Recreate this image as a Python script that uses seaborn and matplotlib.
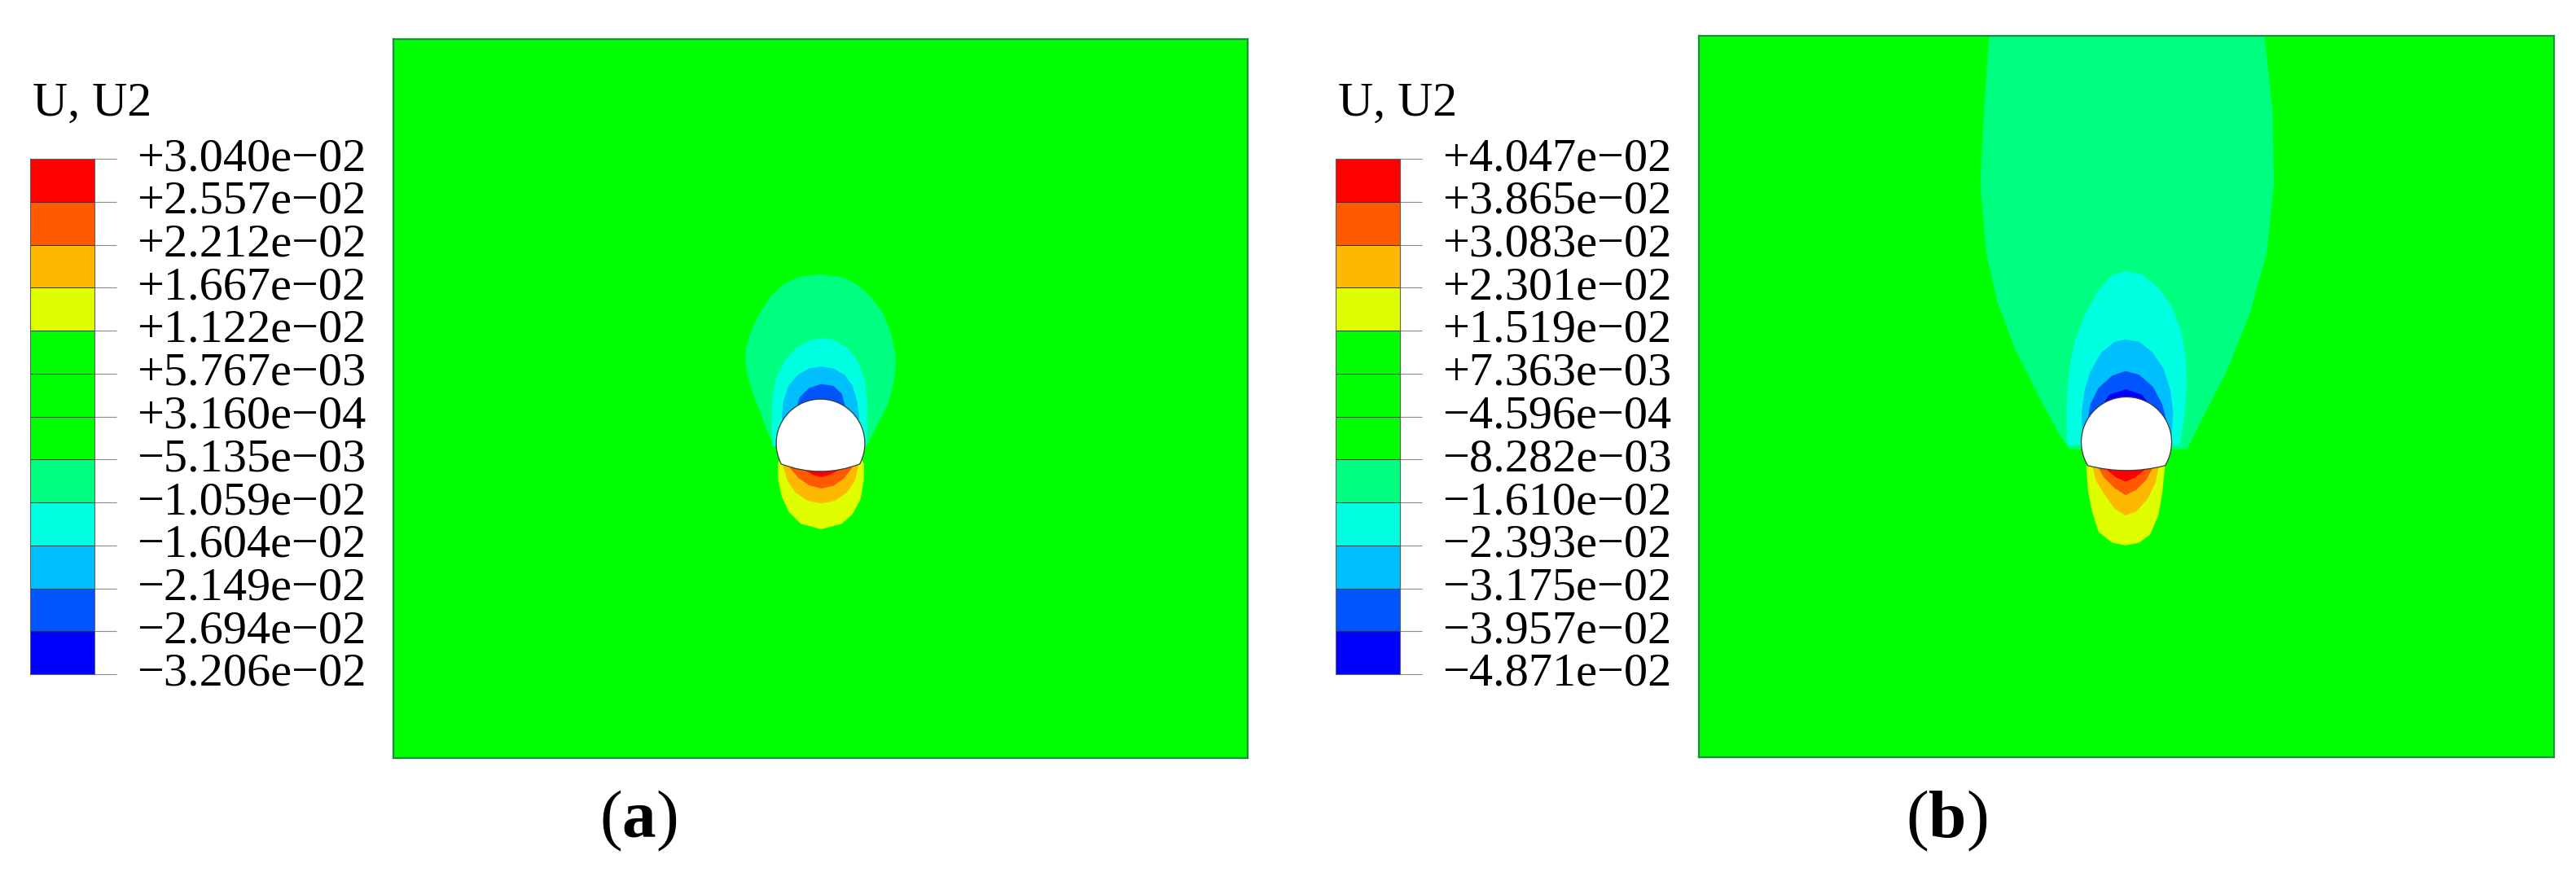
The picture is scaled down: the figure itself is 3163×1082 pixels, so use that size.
import numpy as np
import matplotlib
matplotlib.use("Agg")
import matplotlib.pyplot as plt
import seaborn as sns
from matplotlib.colors import ListedColormap
from matplotlib.path import Path
from matplotlib.patches import PathPatch
from matplotlib.transforms import ScaledTranslation

# ---------------- data ----------------
legend_title = "U, U2"
levels_a = [3.040e-02, 2.557e-02, 2.212e-02, 1.667e-02, 1.122e-02, 5.767e-03, 3.160e-04,
            -5.135e-03, -1.059e-02, -1.604e-02, -2.149e-02, -2.694e-02, -3.206e-02]
levels_b = [4.047e-02, 3.865e-02, 3.083e-02, 2.301e-02, 1.519e-02, 7.363e-03, -4.596e-04,
            -8.282e-03, -1.610e-02, -2.393e-02, -3.175e-02, -3.957e-02, -4.871e-02]
# band colours, highest band first
band_colors = ["#FF0000", "#FF5A00", "#FFB800", "#DFFF00", "#00FF00", "#00FF00", "#00FF00",
               "#00FF80", "#00FFE0", "#00BFFF", "#0055FF", "#0000FF"]
panel_labels = ["a", "b"]
background_band = 5

# model extent (m)
x_range = [-30.0, 30.0]
height_a = 50.5
height_b = 50.6

# tunnel geometry (centre y, radius, invert end y, invert mid y)
tunnel_a = [22.1, 3.11, 20.65, 20.13]
tunnel_b = [22.1, 3.17, 20.46, 20.11]

# ---- panel (a) contour band outlines ----
teal_a_x = [-3.19, -3.67, -4.24, -4.81, -5.20, -5.29, -5.20, -4.81, -4.24, -3.48, -2.53, -1.38, 0.05,
            1.48, 2.62, 3.57, 4.34, 4.91, 5.25, 5.29, 5.10, 4.72, 4.15, 3.57, 3.19]
teal_a_y = [21.89, 22.75, 24.27, 25.80, 27.13, 28.08, 29.04, 30.18, 31.33, 32.47, 33.33, 33.84, 33.96,
            33.80, 33.23, 32.37, 31.33, 29.99, 28.46, 27.51, 26.18, 24.84, 23.70, 22.55, 21.89]
cyan_a_x = [-3.38, -3.44, -3.38, -3.10, -2.53, -1.76, -0.81, 0.05, 0.91, 1.86, 2.62, 3.10, 3.29, 3.29, 3.23]
cyan_a_y = [21.89, 23.70, 25.41, 26.75, 27.89, 28.75, 29.32, 29.51, 29.38, 28.85, 27.89, 26.56, 25.03, 23.51, 21.89]
sky_a_x = [-2.4, -2.72, -2.62, -2.24, -1.57, -0.81, 0.05, 0.91, 1.67, 2.24, 2.58, 2.72, 2.4]
sky_a_y = [22.5, 23.89, 25.03, 26.18, 26.94, 27.36, 27.51, 27.36, 26.94, 26.18, 25.03, 23.89, 22.5]
blue_a_x = [-1.4, -1.76, -1.48, -0.81, 0.05, 0.91, 1.48, 1.76, 1.4]
blue_a_y = [23.0, 24.27, 25.32, 25.99, 26.27, 26.14, 25.61, 24.65, 23.0]
yellow_a_x = [-2.7, -3.00, -2.97, -2.72, -2.24, -1.38, 0.05, 1.48, 2.24, 2.81, 3.04, 3.06, 2.7]
yellow_a_y = [21.3, 20.65, 19.51, 18.36, 17.31, 16.45, 16.07, 16.45, 17.12, 18.17, 19.50, 20.65, 21.3]
amber_a_x = [-2.4, -2.62, -2.34, -1.76, -0.91, 0.05, 1.00, 1.86, 2.43, 2.66, 2.4]
amber_a_y = [21.3, 20.46, 19.50, 18.65, 18.07, 17.88, 18.07, 18.65, 19.50, 20.46, 21.3]
orange_a_x = [-2.0, -2.14, -1.57, -0.81, 0.05, 0.91, 1.67, 2.20, 2.0]
orange_a_y = [21.3, 20.36, 19.69, 19.16, 18.93, 19.12, 19.66, 20.36, 21.3]
red_a_x = [-1.0, -1.10, -0.52, 0.05, 0.62, 1.19, 1.0]
red_a_y = [21.0, 20.21, 19.89, 19.73, 19.89, 20.17, 21.0]

# ---- panel (b) contour band outlines ----
teal_b_x = [-9.6, -10.0, -10.25, -9.85, -9.05, -7.85, -6.25, -4.8, -4.0, 4.25, 5.45, 7.05, 8.65, 9.85, 10.35, 10.25, 9.65]
teal_b_y = [51.0, 45.3, 40.2, 35.4, 31.9, 28.7, 25.5, 22.8, 21.6, 21.6, 24.0, 27.1, 31.1, 35.4, 40.2, 45.3, 51.0]
cyan_b_x = [-4.15, -4.21, -4.15, -3.96, -3.58, -2.91, -1.96, -1.01, -0.06, 1.09, 2.23, 3.18, 3.85, 4.17,
            4.23, 4.10, 3.75]
cyan_b_y = [21.90, 23.81, 25.71, 27.62, 29.33, 31.05, 32.76, 33.81, 34.10, 33.87, 32.95, 31.62, 29.90, 28.0,
            26.10, 24.19, 21.90]
sky_b_x = [-2.4, -3.10, -3.14, -2.95, -2.53, -1.77, -0.82, -0.06, 0.90, 1.85, 2.61, 3.09, 3.28, 3.18, 2.4]
sky_b_y = [22.0, 22.67, 24.19, 25.71, 27.05, 28.38, 29.14, 29.30, 29.14, 28.38, 27.24, 25.71, 24.19, 22.67, 22.0]
blue_b_x = [-2.0, -2.72, -2.53, -1.96, -1.01, -0.06, 0.90, 1.85, 2.51, 2.80, 2.0]
blue_b_y = [23.0, 23.62, 24.76, 25.90, 26.76, 27.09, 26.82, 26.0, 24.76, 23.62, 23.0]
deep_b_x = [-1.0, -1.77, -1.2, -0.06, 1.09, 1.75, 1.0]
deep_b_y = [24.0, 24.57, 25.43, 25.81, 25.43, 24.57, 24.0]
yellow_b_x = [-2.5, -2.82, -2.72, -2.44, -1.96, -1.01, -0.06, 0.90, 1.66, 2.23, 2.51, 2.70, 2.5]
yellow_b_y = [21.2, 20.38, 18.86, 17.33, 15.81, 15.05, 14.86, 15.05, 15.62, 16.95, 18.48, 20.38, 21.2]
amber_b_x = [-2.1, -2.38, -2.15, -1.58, -0.82, -0.06, 0.70, 1.47, 2.04, 2.27, 2.1]
amber_b_y = [21.2, 20.38, 19.43, 18.48, 17.43, 16.95, 17.24, 18.10, 19.24, 20.38, 21.2]
orange_b_x = [-1.7, -1.96, -1.58, -0.82, -0.06, 0.70, 1.37, 1.85, 1.7]
orange_b_y = [21.2, 20.29, 19.62, 18.86, 18.38, 18.76, 19.43, 20.29, 21.2]
red_b_x = [-1.1, -1.39, -0.72, -0.06, 0.61, 1.28, 1.1]
red_b_y = [21.0, 20.15, 19.62, 19.33, 19.62, 20.15, 21.0]

bands_a = [(7, teal_a_x, teal_a_y), (8, cyan_a_x, cyan_a_y), (9, sky_a_x, sky_a_y),
           (10, blue_a_x, blue_a_y), (3, yellow_a_x, yellow_a_y), (2, amber_a_x, amber_a_y),
           (1, orange_a_x, orange_a_y), (0, red_a_x, red_a_y)]
bands_b = [(7, teal_b_x, teal_b_y), (8, cyan_b_x, cyan_b_y), (9, sky_b_x, sky_b_y),
           (10, blue_b_x, blue_b_y), (11, deep_b_x, deep_b_y), (3, yellow_b_x, yellow_b_y),
           (2, amber_b_x, amber_b_y), (1, orange_b_x, orange_b_y), (0, red_b_x, red_b_y)]

# ---------------- style ----------------
sns.set_theme(style="white")
plt.rcParams["font.family"] = ["Liberation Serif", "DejaVu Serif"]
plt.rcParams["mathtext.fontset"] = "custom"
plt.rcParams["mathtext.rm"] = "Liberation Serif"
plt.rcParams["mathtext.bf"] = "Liberation Serif:bold"
plt.rcParams["axes.unicode_minus"] = True

W, H = 3163, 1082
DPI = 100
fig = plt.figure(figsize=(W / DPI, H / DPI), dpi=DPI)
fig.patch.set_facecolor("white")


def frac(x0, y0, x1, y1):
    return [x0 / W, 1 - y1 / H, (x1 - x0) / W, (y1 - y0) / H]


def fmt(v):
    return f"{v:+.3e}".replace("-", "\u2212")


def tunnel_patch(tun):
    cy, r, end_y, mid_y = tun
    a0 = np.arcsin((end_y - cy) / r)
    th = np.linspace(a0, np.pi - a0, 160)
    xs = r * np.cos(th)
    ys = cy + r * np.sin(th)
    verts = list(zip(xs, ys))
    codes = [Path.MOVETO] + [Path.LINETO] * (len(verts) - 1)
    ctrl_y = 2 * mid_y - end_y
    verts += [(0.0, ctrl_y), (xs[0], ys[0]), (xs[0], ys[0])]
    codes += [Path.CURVE3, Path.CURVE3, Path.CLOSEPOLY]
    return PathPatch(Path(verts, codes), facecolor="white", edgecolor="#3a3a3a",
                     lw=0.9, zorder=6)


def draw_panel(rect, height, bands, tun):
    ax = fig.add_axes(rect)
    ax.set_xlim(*x_range)
    ax.set_ylim(0, height)
    ax.set_facecolor(band_colors[background_band])
    for k, (idx, xs, ys) in enumerate(bands):
        ax.fill(xs, ys, color=band_colors[idx], lw=0, zorder=2 + 0.01 * k)
    ax.add_patch(tunnel_patch(tun))
    ax.set_xticks([])
    ax.set_yticks([])
    for s in ax.spines.values():
        s.set_visible(True)
        s.set_color("#1d8f45")
        s.set_linewidth(1.6)
    return ax


def draw_legend(x0, levels):
    ax = fig.add_axes(frac(x0, 195, x0 + 79, 828))
    data = np.arange(len(band_colors)).reshape(-1, 1)
    sns.heatmap(data, ax=ax, cmap=ListedColormap(band_colors), vmin=-0.5,
                vmax=len(band_colors) - 0.5, cbar=False, linewidths=0.7,
                linecolor="#303030", xticklabels=False, yticklabels=False)
    ax.set_yticks(np.arange(len(levels)))
    ax.set_yticklabels([fmt(v) for v in levels], fontsize=42)
    ax.tick_params(axis="y", which="both", left=False, labelleft=False, right=True,
                   labelright=True, length=19.5, width=0.8, color="#8a8a8a",
                   pad=18, direction="out")
    ax.tick_params(axis="x", bottom=False, labelbottom=False)
    off = ScaledTranslation(0, 6 / DPI, fig.dpi_scale_trans)
    for lab in ax.get_yticklabels():
        lab.set_transform(lab.get_transform() + off)
        lab.set_color("black")
    for s in ax.spines.values():
        s.set_visible(True)
        s.set_color("#606060")
        s.set_linewidth(0.8)
    fig.text((x0 + 3) / W, 1 - 142 / H, legend_title, fontsize=43, ha="left",
             va="baseline", color="black")
    return ax


# panels
draw_panel(frac(483, 48, 1532, 931), height_a, bands_a, tunnel_a)
draw_panel(frac(2086, 44, 3136, 930), height_b, bands_b, tunnel_b)

# legends
draw_legend(37, levels_a)
draw_legend(1640, levels_b)

# sub-figure labels
for cx, lab in zip([784, 2390], panel_labels):
    fig.text(cx / W, 1 - 1008 / H, r"($\mathbf{" + lab + r"}$)", fontsize=60,
             ha="center", va="center", color="black")

fig.savefig("out.png", dpi=DPI, facecolor="white")
